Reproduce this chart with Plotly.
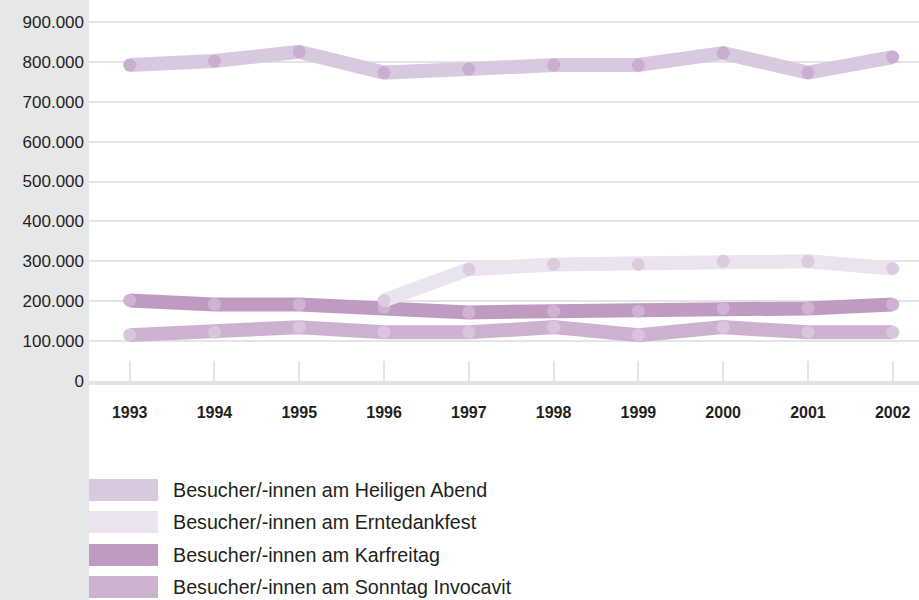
import plotly.graph_objects as go

years = [1993, 1994, 1995, 1996, 1997, 1998, 1999, 2000, 2001, 2002]

heiligabend = [792000, 802000, 825000, 773000, 782000, 792000, 792000, 822000, 773000, 812000]
erntedank = [None, None, None, 202000, 280000, 292000, 292000, 300000, 300000, 282000]
karfreitag = [202000, 192000, 192000, 185000, 172000, 175000, 175000, 182000, 182000, 192000]
invocavit = [115000, 122000, 135000, 122000, 122000, 135000, 115000, 135000, 122000, 122000]

names = [
    "Besucher/-innen am Heiligen Abend",
    "Besucher/-innen am Erntedankfest",
    "Besucher/-innen am Karfreitag",
    "Besucher/-innen am Sonntag Invocavit",
]
series = [heiligabend, erntedank, karfreitag, invocavit]
line_colors = ["#d9c9df", "#ebe3ef", "#bf9bc2", "#cdb2d0"]
marker_colors = ["#c9aed1", "#dccbe0", "#ceb3d3", "#d9c5dd"]

draw_order = [3, 2, 0, 1]

fig = go.Figure()
for i in draw_order:
    fig.add_trace(go.Scatter(
        x=years, y=series[i], name=names[i], mode="lines+markers",
        line=dict(color=line_colors[i], width=14),
        marker=dict(color=marker_colors[i], size=13),
        showlegend=False, connectgaps=False, hoverinfo="skip",
    ))

W, H = 919, 600
L, B = 89, 219
pw, ph = W - L, H - B

shapes = [
    dict(type="rect", xref="paper", yref="paper", x0=-L / pw, x1=0, y0=-B / ph, y1=1.0,
         fillcolor="#e6e7e9", line=dict(width=0), layer="below"),
]
annotations = []
row_centers = [490, 522, 555, 587]
for i, (nm, col) in enumerate(zip(names, line_colors)):
    yc = row_centers[i]
    shapes.append(dict(type="rect", xref="paper", yref="paper",
                       x0=0, x1=69 / pw, y0=(ph - (yc + 11)) / ph, y1=(ph - (yc - 11)) / ph,
                       fillcolor=col, line=dict(width=0)))
    annotations.append(dict(xref="paper", yref="paper", x=(171 - L) / pw, y=(ph - yc) / ph,
                            text=nm, showarrow=False, xanchor="left", yanchor="middle",
                            font=dict(size=19.7, color="#231f20", family="Liberation Sans")))

fig.update_layout(
    width=W, height=H,
    margin=dict(l=L, r=0, t=0, b=B),
    paper_bgcolor="white", plot_bgcolor="white",
    separators=",.",
    font=dict(family="Liberation Sans", color="#231f20"),
    shapes=shapes, annotations=annotations,
    showlegend=False,
)
fig.update_xaxes(
    range=[1992.52, 2002.31], tickmode="array", tickvals=years,
    ticktext=["<b>%d</b>" % y for y in years],
    ticks="inside", ticklen=20, tickwidth=2, tickcolor="#e4e4e6",
    showgrid=False, zeroline=False, showline=True, linecolor="#e4e4e6", linewidth=4,
    tickfont=dict(size=16, color="#231f20", family="Liberation Sans"),
    ticklabelstandoff=14,
)
fig.update_yaxes(
    range=[0, 955000], dtick=100000, tick0=0, tickformat=",d",
    showgrid=True, gridcolor="#e4e4e6", gridwidth=2, zeroline=False,
    ticks="", tickfont=dict(size=17, color="#231f20", family="Liberation Sans"),
    ticklabelstandoff=4,
)

fig.write_html("out.html", config={"displayModeBar": False},
               post_script="document.body.style.margin='0';document.body.style.overflow='hidden';")
